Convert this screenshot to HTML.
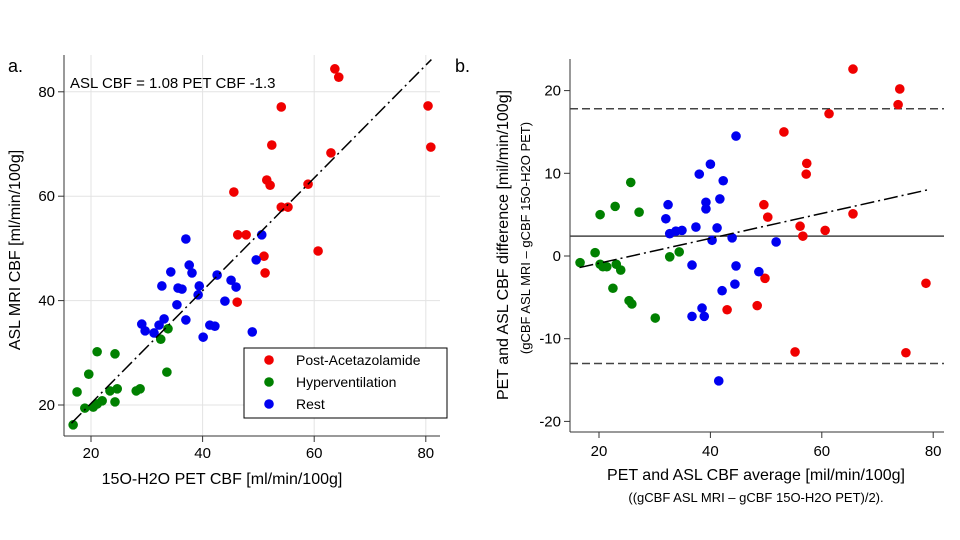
<!DOCTYPE html>
<html><head><meta charset="utf-8"><style>
html,body{margin:0;padding:0;background:#fff;}
svg{display:block;font-family:"Liberation Sans",Arial,sans-serif;}
</style></head><body>
<svg id="chart" width="960" height="540" viewBox="0 0 960 540">
<g id="left"></g>
<g id="right"></g>
<text x="8" y="72" font-size="18">a.</text>
<text x="455" y="72" font-size="18">b.</text>
<text x="70" y="88" font-size="15">ASL CBF = 1.08 PET CBF -1.3</text>
<text transform="translate(20,250) rotate(-90)" text-anchor="middle" font-size="16">ASL MRI CBF [ml/min/100g]</text>
<text x="222" y="484" text-anchor="middle" font-size="16">15O-H2O PET CBF [ml/min/100g]</text>
<text transform="translate(508,245) rotate(-90)" text-anchor="middle" font-size="16">PET and ASL CBF difference [mil/min/100g]</text>
<text transform="translate(530,238) rotate(-90)" text-anchor="middle" font-size="13">(gCBF ASL MRI – gCBF 15O-H2O PET)</text>
<text x="756" y="480" text-anchor="middle" font-size="16">PET and ASL CBF average [mil/min/100g]</text>
<text x="756" y="502" text-anchor="middle" font-size="13">((gCBF ASL MRI – gCBF 15O-H2O PET)/2).</text>
</svg>
<script>
// Panel a data
const aRedX=[63.7,64.4,54.1,80.4,80.9,52.4,63.0,45.6,51.5,52.1,58.9,54.1,55.3,46.3,47.8,60.7,51.0,51.2,46.2];
const aRedY=[84.4,82.8,77.1,77.3,69.4,69.8,68.3,60.8,63.1,62.1,62.3,57.9,57.9,52.6,52.6,49.5,48.5,45.3,39.7];
const aBlueX=[37.0,50.6,49.6,37.6,38.1,34.3,42.6,45.1,46.0,32.7,35.6,36.3,39.4,39.2,44.0,35.4,37.0,33.1,32.2,29.1,29.7,31.3,41.3,42.2,40.1,48.9];
const aBlueY=[51.8,52.6,47.8,46.8,45.3,45.5,44.9,43.9,42.6,42.8,42.4,42.2,42.8,41.1,39.9,39.2,36.3,36.5,35.3,35.5,34.2,33.8,35.3,35.1,33.0,34.0];
const aGreenX=[33.8,32.5,21.1,24.3,19.6,33.6,17.5,23.4,24.7,28.1,28.8,22.0,21.1,20.4,18.9,24.3,16.8];
const aGreenY=[34.6,32.6,30.2,29.8,25.9,26.3,22.5,22.7,23.1,22.7,23.1,20.8,20.2,19.6,19.4,20.6,16.2];
const aTicksX=[20,40,60,80];
const aTicksY=[20,40,60,80];
const aSlope=1.08, aIntercept=-1.3, aFitRange=[16.5,81];
// Panel b data
const bRedX=[65.6,74.0,73.7,61.3,53.2,57.3,57.2,49.6,50.3,65.6,56.1,60.6,56.6,49.8,78.7,43.0,48.4,55.2,75.1];
const bRedY=[22.6,20.2,18.3,17.2,15.0,11.2,9.9,6.2,4.7,5.1,3.6,3.1,2.4,-2.7,-3.3,-6.5,-6.0,-11.6,-11.7];
const bBlueX=[44.6,40.0,38.0,42.3,41.7,39.2,39.2,32.4,32.0,37.4,41.2,34.9,33.8,32.7,43.9,40.3,51.8,36.7,44.6,48.7,44.4,42.1,38.5,36.7,38.9,41.5];
const bBlueY=[14.5,11.1,9.9,9.1,6.9,6.5,5.7,6.2,4.5,3.5,3.4,3.1,3.0,2.7,2.2,1.9,1.7,-1.1,-1.2,-1.9,-3.4,-4.2,-6.3,-7.3,-7.3,-15.1];
const bGreenX=[25.7,22.9,27.2,20.2,19.3,34.4,32.7,16.6,20.2,20.7,21.4,23.1,23.9,22.5,25.4,25.9,30.1];
const bGreenY=[8.9,6.0,5.3,5.0,0.4,0.5,-0.1,-0.8,-1.0,-1.3,-1.3,-1.0,-1.7,-3.9,-5.4,-5.8,-7.5];
const bTicksX=[20,40,60,80];
const bTicksY=[-20,-10,0,10,20];
const bMean=2.4, bUpper=17.8, bLower=-13.0;
const bFitX=[16.5,79], bFitY=[-1.4,8.0];

const NS='http://www.w3.org/2000/svg';
function mk(parent,tag,attrs){const e=document.createElementNS(NS,tag);for(const k in attrs)e.setAttribute(k,attrs[k]);parent.appendChild(e);return e;}
const ax=v=>91+(v-20)*5.58, ay=v=>405-(v-20)*5.22;
const bx=v=>599+(v-20)*5.57, by=v=>256-v*8.27;
const L=document.getElementById('left'), R=document.getElementById('right');

aTicksX.forEach(t=>{
  const g=mk(L,'line',{x1:ax(t),x2:ax(t),y1:55,y2:436,stroke:'#e3e3e3','stroke-width':1});
  
  
  const tk=mk(L,'line',{x1:ax(t),x2:ax(t),y1:436,y2:442,stroke:'#333'});
  
  
  const tx=mk(L,'text',{x:ax(t),y:458,'text-anchor':'middle','font-size':15});tx.textContent=t;
  
  
});
aTicksY.forEach(t=>{
  const g=mk(L,'line',{x1:64,x2:440,y1:ay(t),y2:ay(t),stroke:'#e3e3e3','stroke-width':1});
  
  
  const tk=mk(L,'line',{x1:58,x2:64,y1:ay(t),y2:ay(t),stroke:'#333'});
  
  
  const tx=mk(L,'text',{x:55,y:ay(t)+5,'text-anchor':'end','font-size':15});tx.textContent=t;
  
  
});
let e=mk(L,'line',{x1:64,x2:64,y1:55,y2:436,stroke:'#333'});


e=mk(L,'line',{x1:64,x2:440,y1:436,y2:436,stroke:'#333'});


function dots(P,xs,ys,fx,fy,col,name){xs.forEach((v,i)=>{const c=mk(P,'circle',{cx:fx(v),cy:fy(ys[i]),r:4.8,fill:col});
  
  });}
dots(L,aRedX,aRedY,ax,ay,'#f00000','point-post-acetazolamide');
dots(L,aBlueX,aBlueY,ax,ay,'#0000f0','point-rest');
dots(L,aGreenX,aGreenY,ax,ay,'#008000','point-hyperventilation');
e=mk(L,'line',{x1:ax(aFitRange[0]),y1:ay(aSlope*aFitRange[0]+aIntercept),x2:ax(aFitRange[1]),y2:ay(aSlope*aFitRange[1]+aIntercept),stroke:'#000','stroke-width':1.5,'stroke-dasharray':'14 4 2 4'});


const LG=mk(L,'g',{});


mk(LG,'rect',{x:244,y:348,width:203,height:70,fill:'#fff',stroke:'#000'});
[['Post-Acetazolamide','#f00000'],['Hyperventilation','#008000'],['Rest','#0000f0']].forEach((d,i)=>{
  const c=mk(LG,'circle',{cx:269,cy:360+i*22,r:4.8,fill:d[1]});
  
  
  const t=mk(LG,'text',{x:296,y:365+i*22,'font-size':14});t.textContent=d[0];
  
  
});

e=mk(R,'line',{x1:570,x2:570,y1:59,y2:432,stroke:'#333'});


e=mk(R,'line',{x1:570,x2:944,y1:432,y2:432,stroke:'#333'});


bTicksX.forEach(t=>{
  const tk=mk(R,'line',{x1:bx(t),x2:bx(t),y1:432,y2:438,stroke:'#333'});
  
  
  const tx=mk(R,'text',{x:bx(t),y:456,'text-anchor':'middle','font-size':15});tx.textContent=t;
  
  
});
bTicksY.forEach(t=>{
  const tk=mk(R,'line',{x1:564,x2:570,y1:by(t),y2:by(t),stroke:'#333'});
  
  
  const tx=mk(R,'text',{x:561,y:by(t)+5,'text-anchor':'end','font-size':15});tx.textContent=t;
  
  
});
e=mk(R,'line',{x1:570,x2:944,y1:by(bMean),y2:by(bMean),stroke:'#444','stroke-width':1.5});


e=mk(R,'line',{x1:570,x2:944,y1:by(bUpper),y2:by(bUpper),stroke:'#444','stroke-width':1.5,'stroke-dasharray':'8 4'});


e=mk(R,'line',{x1:570,x2:944,y1:by(bLower),y2:by(bLower),stroke:'#444','stroke-width':1.5,'stroke-dasharray':'8 4'});


dots(R,bRedX,bRedY,bx,by,'#f00000','point-post-acetazolamide-b');
dots(R,bBlueX,bBlueY,bx,by,'#0000f0','point-rest-b');
dots(R,bGreenX,bGreenY,bx,by,'#008000','point-hyperventilation-b');
e=mk(R,'line',{x1:bx(bFitX[0]),y1:by(bFitY[0]),x2:bx(bFitX[1]),y2:by(bFitY[1]),stroke:'#000','stroke-width':1.5,'stroke-dasharray':'14 4 2 4'});


</script>
</body></html>
